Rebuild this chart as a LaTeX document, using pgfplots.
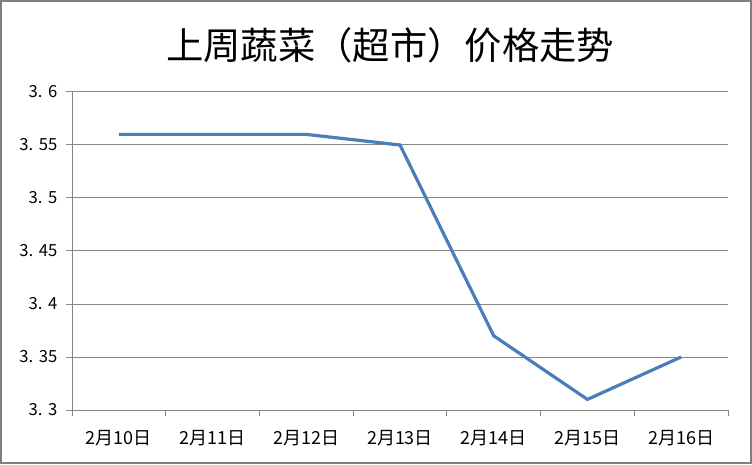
\documentclass[border=0pt]{standalone}
\usepackage{pgfplots}
\pgfplotsset{compat=1.18}
\usepackage{fontspec}
\setmainfont{Liberation Serif}
\newfontfamily\cjk{Noto Sans CJK SC}
\definecolor{linecol}{HTML}{4A7EBB}
\definecolor{gridcol}{HTML}{868686}
\definecolor{framecol}{HTML}{808080}
\begin{document}
\begin{tikzpicture}
\useasboundingbox (0pt,0pt) rectangle (564pt,348pt);
\draw[framecol, line width=1.5pt] (0.75pt,0.75pt) rectangle (563.25pt,347.25pt);
\node[font=\cjk\fontsize{28}{30}\selectfont, anchor=center] at (292.5pt,314.25pt) {上周蔬菜（超市）价格走势};
\begin{axis}[
  at={(54pt,40.5pt)}, anchor=south west,
  width=492pt, height=238.5pt, scale only axis,
  xmin=-0.5, xmax=6.5, ymin=3.3, ymax=3.6,
  axis x line*=bottom, axis y line*=left,
  axis line style={gridcol, line width=0.75pt},
  xtick={0,1,2,3,4,5,6},
  xticklabels={2月10日,2月11日,2月12日,2月13日,2月14日,2月15日,2月16日},
  minor xtick={-0.5,0.5,1.5,2.5,3.5,4.5,5.5,6.5},
  ytick={3.3,3.35,3.4,3.45,3.5,3.55,3.6},
  yticklabels={3.\,\,3,3.\,\,35,3.\,\,4,3.\,\,45,3.\,\,5,3.\,\,55,3.\,\,6},
  tick align=outside,
  major x tick style={draw=none},
  minor x tick style={gridcol, line width=0.75pt},
  minor tick length=4.5pt,
  major y tick style={gridcol, line width=0.75pt},
  major tick length=4.5pt,
  ymajorgrids, major grid style={gridcol, line width=0.75pt},
  xticklabel style={font=\cjk\fontsize{13.5}{15}\selectfont, yshift=-7pt},
  yticklabel style={font=\cjk\fontsize{12.5}{14}\selectfont, xshift=-3pt},
  clip=false,
]
\addplot[linecol, line width=2.4pt, mark=none] coordinates {
  (0,3.56) (1,3.56) (2,3.56) (3,3.55) (4,3.37) (5,3.31) (6,3.35)
};
\end{axis}
\end{tikzpicture}
\end{document}
